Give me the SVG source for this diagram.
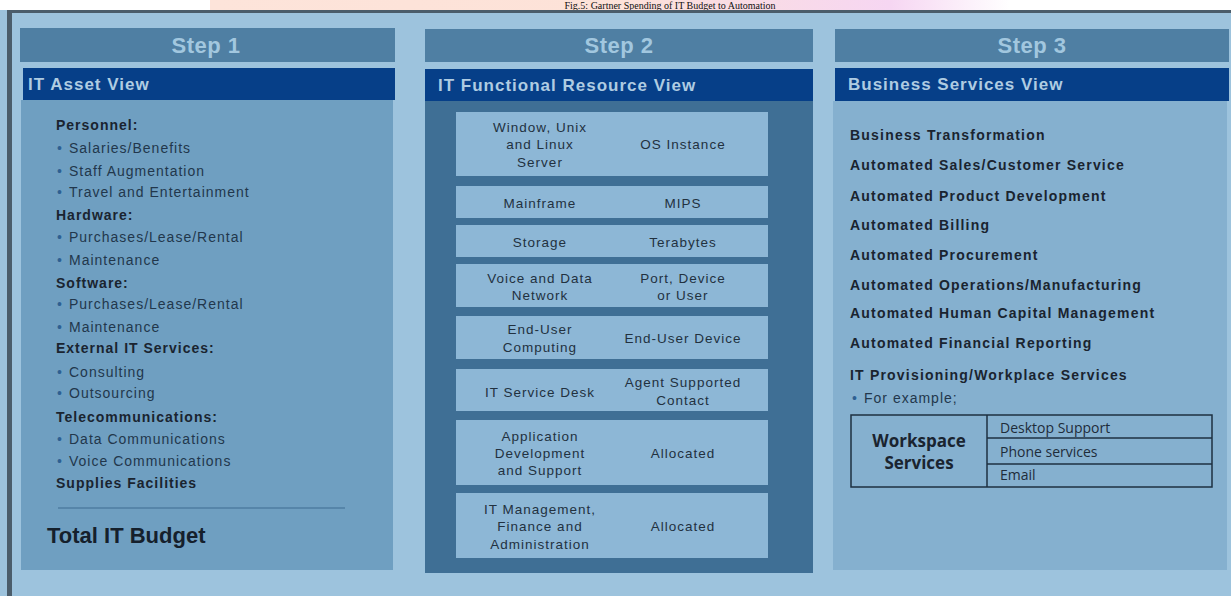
<svg xmlns="http://www.w3.org/2000/svg" width="1231" height="596" viewBox="0 0 1231 596">
<defs>
<linearGradient id="cap" x1="0" y1="0" x2="1" y2="0">
<stop offset="0" stop-color="#fde4da"/>
<stop offset="0.5" stop-color="#fde2d8"/>
<stop offset="0.85" stop-color="#f6d6f2"/>
<stop offset="1" stop-color="#ffffff"/>
</linearGradient>
<style>
.hd{fill:#4f7fa3}
.nv{fill:#063f88}
.st{font-family:"Liberation Sans",Arial,sans-serif;font-weight:bold;font-size:22px;fill:#a2c7df;text-anchor:middle;letter-spacing:0.5px}
.vw{font-family:"Liberation Sans",Arial,sans-serif;font-weight:bold;font-size:17px;fill:#afcce2;letter-spacing:1px}
.b1{font-family:"Liberation Sans",Arial,sans-serif;font-weight:bold;font-size:14px;fill:#1a2430;letter-spacing:1px}
.r1{font-family:"Liberation Sans",Arial,sans-serif;font-size:14px;fill:#22374c;letter-spacing:1px}
.bu{fill:#2e5f92}
.c2{font-family:"Liberation Sans",Arial,sans-serif;font-size:13.5px;fill:#22313f;text-anchor:middle;letter-spacing:1px}
.box{fill:#8db7d6}
.b3{font-family:"Liberation Sans",Arial,sans-serif;font-weight:bold;font-size:14px;fill:#1a2430;letter-spacing:1.2px}
.tb{fill:none;stroke:#1e3042;stroke-width:1.5}
.ws{font-family:"Open Sans","Liberation Sans",sans-serif;font-weight:bold;font-size:17px;fill:#1a2430;text-anchor:middle}
.wi{font-family:"Open Sans","Liberation Sans",sans-serif;font-size:14px;fill:#1e2c3a}
</style>
</defs>
<rect x="0" y="0" width="1231" height="596" fill="#9dc3dd"/>
<rect x="0" y="0" width="1231" height="10" fill="#ffffff"/>
<rect x="210" y="0" width="800" height="10" fill="url(#cap)"/>
<text x="670" y="8.5" font-family="'Liberation Serif','Times New Roman',serif" font-size="10" fill="#111" text-anchor="middle">Fig.5: Gartner Spending of IT Budget to Automation</text>
<rect x="7" y="10" width="1224" height="3" fill="#4b5d6b"/>
<rect x="7" y="10" width="5" height="586" fill="#4b5d6b"/>

<g id="step1">
<rect x="21" y="100" width="372" height="470" fill="#6f9fc1"/>
<rect class="hd" x="20" y="28" width="375" height="34"/>
<text class="st" x="206" y="53">Step 1</text>
<rect class="nv" x="23" y="68" width="372" height="32"/>
<text class="vw" x="28" y="90">IT Asset View</text>
<text class="b1" x="56" y="130">Personnel:</text>
<text class="r1" x="57" y="153"><tspan class="bu">•</tspan><tspan x="69">Salaries/Benefits</tspan></text>
<text class="r1" x="57" y="176"><tspan class="bu">•</tspan><tspan x="69">Staff Augmentation</tspan></text>
<text class="r1" x="57" y="197"><tspan class="bu">•</tspan><tspan x="69">Travel and Entertainment</tspan></text>
<text class="b1" x="56" y="220">Hardware:</text>
<text class="r1" x="57" y="242"><tspan class="bu">•</tspan><tspan x="69">Purchases/Lease/Rental</tspan></text>
<text class="r1" x="57" y="265"><tspan class="bu">•</tspan><tspan x="69">Maintenance</tspan></text>
<text class="b1" x="56" y="288">Software:</text>
<text class="r1" x="57" y="309"><tspan class="bu">•</tspan><tspan x="69">Purchases/Lease/Rental</tspan></text>
<text class="r1" x="57" y="332"><tspan class="bu">•</tspan><tspan x="69">Maintenance</tspan></text>
<text class="b1" x="56" y="353">External IT Services:</text>
<text class="r1" x="57" y="377"><tspan class="bu">•</tspan><tspan x="69">Consulting</tspan></text>
<text class="r1" x="57" y="398"><tspan class="bu">•</tspan><tspan x="69">Outsourcing</tspan></text>
<text class="b1" x="56" y="422">Telecommunications:</text>
<text class="r1" x="57" y="444"><tspan class="bu">•</tspan><tspan x="69">Data Communications</tspan></text>
<text class="r1" x="57" y="466"><tspan class="bu">•</tspan><tspan x="69">Voice Communications</tspan></text>
<text class="b1" x="56" y="488">Supplies Facilities</text>
<line x1="58" y1="508" x2="345" y2="508" stroke="#3f6d91" stroke-width="1.2"/>
<text x="47" y="543" font-family="'Liberation Sans',Arial,sans-serif" font-weight="bold" font-size="22" fill="#15202c">Total IT Budget</text>
</g>

<g id="step2">
<rect x="425" y="101" width="388" height="472" fill="#3f6f95"/>
<rect class="hd" x="425" y="29" width="388" height="33"/>
<text class="st" x="619" y="53">Step 2</text>
<rect class="nv" x="425" y="69" width="388" height="32"/>
<text class="vw" x="438" y="91">IT Functional Resource View</text>
</g>

<g id="row-server">
<rect class="box" x="456" y="112" width="312" height="64"/>
<text class="c2" x="540" y="132">Window, Unix</text>
<text class="c2" x="540" y="149">and Linux</text>
<text class="c2" x="540" y="167">Server</text>
<text class="c2" x="683" y="149">OS Instance</text>
</g>
<g id="row-mainframe">
<rect class="box" x="456" y="186" width="312" height="32"/>
<text class="c2" x="540" y="208">Mainframe</text>
<text class="c2" x="683" y="208">MIPS</text>
</g>
<g id="row-storage">
<rect class="box" x="456" y="225" width="312" height="32"/>
<text class="c2" x="540" y="247">Storage</text>
<text class="c2" x="683" y="247">Terabytes</text>
</g>
<g id="row-network">
<rect class="box" x="456" y="264" width="312" height="43"/>
<text class="c2" x="540" y="283">Voice and Data</text>
<text class="c2" x="540" y="300">Network</text>
<text class="c2" x="683" y="283">Port, Device</text>
<text class="c2" x="683" y="300">or User</text>
</g>
<g id="row-enduser">
<rect class="box" x="456" y="316" width="312" height="43"/>
<text class="c2" x="540" y="334">End-User</text>
<text class="c2" x="540" y="352">Computing</text>
<text class="c2" x="683" y="343">End-User Device</text>
</g>
<g id="row-servicedesk">
<rect class="box" x="456" y="369" width="312" height="42"/>
<text class="c2" x="540" y="397">IT Service Desk</text>
<text class="c2" x="683" y="387">Agent Supported</text>
<text class="c2" x="683" y="405">Contact</text>
</g>
<g id="row-appdev">
<rect class="box" x="456" y="420" width="312" height="65"/>
<text class="c2" x="540" y="441">Application</text>
<text class="c2" x="540" y="458">Development</text>
<text class="c2" x="540" y="475">and Support</text>
<text class="c2" x="683" y="458">Allocated</text>
</g>
<g id="row-itmgmt">
<rect class="box" x="456" y="493" width="312" height="65"/>
<text class="c2" x="540" y="514">IT Management,</text>
<text class="c2" x="540" y="531">Finance and</text>
<text class="c2" x="540" y="549">Administration</text>
<text class="c2" x="683" y="531">Allocated</text>
</g>

<g id="step3">
<rect x="833" y="101" width="394" height="469" fill="#85b0cf"/>
<rect class="hd" x="835" y="29" width="394" height="33"/>
<text class="st" x="1032" y="53">Step 3</text>
<rect class="nv" x="835" y="68" width="394" height="33"/>
<text class="vw" x="848" y="90">Business Services View</text>
<text class="b3" x="850" y="140">Business Transformation</text>
<text class="b3" x="850" y="170">Automated Sales/Customer Service</text>
<text class="b3" x="850" y="201">Automated Product Development</text>
<text class="b3" x="850" y="230">Automated Billing</text>
<text class="b3" x="850" y="260">Automated Procurement</text>
<text class="b3" x="850" y="290">Automated Operations/Manufacturing</text>
<text class="b3" x="850" y="318">Automated Human Capital Management</text>
<text class="b3" x="850" y="348">Automated Financial Reporting</text>
<text class="b3" x="850" y="380">IT Provisioning/Workplace Services</text>
<text class="r1" x="852" y="403" font-size="13"><tspan class="bu">•</tspan><tspan x="864">For example;</tspan></text>
</g>

<g id="workspace-table">
<rect class="tb" x="851" y="415" width="361" height="72"/>
<line class="tb" x1="987" y1="415" x2="987" y2="487"/>
<line class="tb" x1="987" y1="438" x2="1212" y2="438"/>
<line class="tb" x1="987" y1="464" x2="1212" y2="464"/>
<text class="ws" x="919" y="447">Workspace</text>
<text class="ws" x="919" y="469">Services</text>
<text class="wi" x="1000" y="433">Desktop Support</text>
<text class="wi" x="1000" y="457">Phone services</text>
<text class="wi" x="1000" y="480">Email</text>
</g>
</svg>
